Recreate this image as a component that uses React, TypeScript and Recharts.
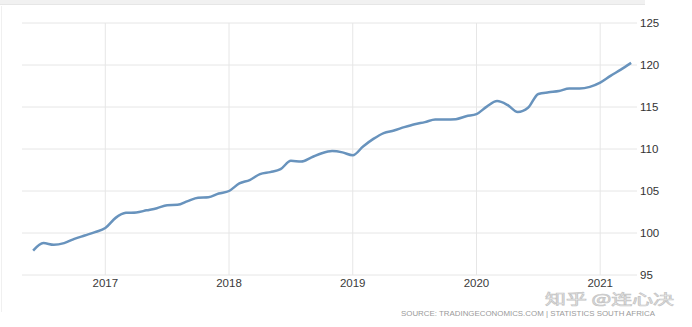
import React from 'react';
import { LineChart, Line, XAxis, YAxis, CartesianGrid, ReferenceLine } from 'recharts';

// South Africa CPI, monthly, June 2016 .. April 2021
const startYear = 2016;
const startMonth = 6; // June
const cpiValues = [
  // 2016 Jun-Dec
  97.9, 98.8, 98.6, 98.8, 99.3, 99.7, 100.1,
  // 2017
  100.6, 101.8, 102.4, 102.45, 102.7, 102.95, 103.3, 103.35, 103.8, 104.2, 104.25, 104.7,
  // 2018
  105.0, 105.9, 106.3, 107.0, 107.25, 107.6, 108.6, 108.5, 109.0, 109.5, 109.75, 109.6,
  // 2019
  109.25, 110.3, 111.2, 111.9, 112.2, 112.6, 112.95, 113.2, 113.5, 113.5, 113.55, 113.9,
  // 2020
  114.15, 115.05, 115.7, 115.25, 114.4, 114.9, 116.55, 116.75, 116.9, 117.2, 117.2, 117.4,
  // 2021 Jan-Apr
  117.9, 118.7, 119.45, 120.25,
];
const yearTicks = [2017, 2018, 2019, 2020, 2021];
const valueTicks = [95, 100, 105, 110, 115, 120, 125];
const sourceText = 'SOURCE: TRADINGECONOMICS.COM | STATISTICS SOUTH AFRICA';
const watermarkText = '知乎 @连心决';

// t = months relative to January 2017
const baseYear = 2017;
const data = cpiValues.map((v, i) => {
  const monthIndex = (startYear - baseYear) * 12 + (startMonth - 1) + i;
  return { t: monthIndex, value: v };
});
const xTicks = yearTicks.map((y) => (y - baseYear) * 12);

const tickFont = "'Liberation Sans', Arial, sans-serif";
const gridColor = '#e6e6e6';

export default function App() {
  return (
    <div style={{ position: 'absolute', left: 0, top: 0, width: 692, height: 327, background: '#fff' }}>
      <div style={{ position: 'absolute', left: 0, top: 0, width: 645, height: 4, background: '#f1f1f1', borderBottom: '1px solid #e6e6e6' }} />
      <div style={{ position: 'absolute', left: 1, top: 6, width: 1, height: 306, background: '#f0f0f0' }} />
      <LineChart
        width={692}
        height={327}
        data={data}
        margin={{ top: 23, right: 0, bottom: 22, left: 22 }}
      >
        <CartesianGrid stroke={gridColor} strokeWidth={1} vertical={false} />
        {xTicks.map((t) => (
          <ReferenceLine key={t} x={t} stroke={gridColor} strokeWidth={1} ifOverflow="extendDomain" />
        ))}
        <XAxis
          dataKey="t"
          type="number"
          domain={[-8.08, 51.57]}
          ticks={xTicks}
          tickFormatter={(v: number) => String(baseYear + v / 12)}
          axisLine={false}
          tickLine={false}
          tickSize={0}
          tickMargin={4}
          height={30}
          tick={{ fill: '#3a3a3a', fontSize: 11.5, fontFamily: tickFont }}
          allowDataOverflow
        />
        <YAxis
          orientation="right"
          type="number"
          domain={[95, 125]}
          ticks={valueTicks}
          axisLine={false}
          tickLine={false}
          tickSize={0}
          tickMargin={3}
          width={55}
          tick={{ fill: '#333', fontSize: 11.5, fontFamily: tickFont, textAnchor: 'start' }}
          allowDataOverflow
        />
        <Line
          type="monotone"
          dataKey="value"
          stroke="#6893bd"
          strokeWidth={2.5}
          dot={false}
          activeDot={false}
          isAnimationActive={false}
        />
      </LineChart>
      <svg style={{ position: 'absolute', left: 0, top: 0 }} width={692} height={327}>
        <text
          x={545}
          y={304}
          fontSize={14}
          fill="#f7f7f7"
          stroke="#c4c4c4"
          strokeWidth={0.7}
          fontFamily="'Noto Sans CJK SC', sans-serif"
          textLength={129}
          lengthAdjust="spacingAndGlyphs"
        >
          {watermarkText}
        </text>
        <text
          x={401}
          y={316}
          fontSize={8}
          fill="#9a9a9a"
          fontFamily={tickFont}
          textLength={254}
          lengthAdjust="spacingAndGlyphs"
        >
          {sourceText}
        </text>
      </svg>
    </div>
  );
}
